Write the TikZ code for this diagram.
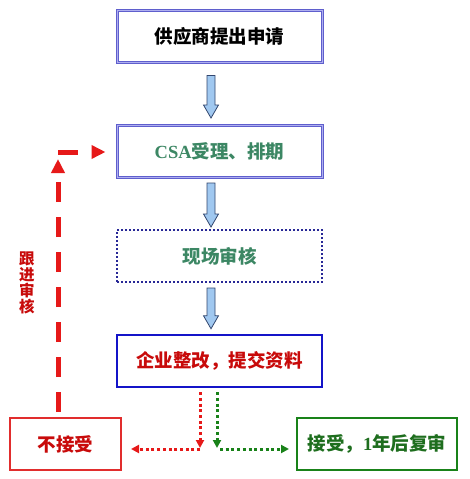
\documentclass[tikz,border=0pt]{standalone}
\usepackage{fontspec}
\setmainfont{Liberation Serif}
\newfontfamily\cjk{Noto Sans CJK SC}
\usetikzlibrary{calc,arrows.meta}
\definecolor{dblout}{RGB}{95,95,205}
\definecolor{dblin}{RGB}{175,175,240}
\definecolor{dotblue}{RGB}{40,40,150}
\definecolor{solidblue}{RGB}{20,20,200}
\definecolor{tealtxt}{RGB}{60,135,100}
\definecolor{redtxt}{RGB}{200,10,10}
\definecolor{redline}{RGB}{230,25,25}
\definecolor{redbox}{RGB}{225,45,45}
\definecolor{greenline}{RGB}{25,130,25}
\definecolor{greentxt}{RGB}{30,110,30}
\definecolor{arrowfill}{RGB}{160,200,240}
\definecolor{arrowline}{RGB}{50,70,110}
\newcommand{\blockarr}[4]{%
  \draw[barrow] let \p1=($(#1)+(-8.5,#3)$), \p2=($(#2)+(0,-#4)$) in
    (\x1-4pt,\y1) -- (\x1+4pt,\y1) -- (\x1+4pt,\y2+13pt) -- (\x1+7.5pt,\y2+13pt)
    -- (\x1,\y2) -- (\x1-7.5pt,\y2+13pt) -- (\x1-4pt,\y2+13pt) -- cycle;}
\begin{document}
\begin{tikzpicture}[x=1pt,y=-1pt,
  txt/.style={font=\fontsize{18.5}{21}\selectfont\bfseries},
  mainbox/.style={txt, minimum width=205pt, minimum height=52pt, inner sep=0pt},
  dblbox/.style={mainbox, draw=dblout, line width=1pt, double=dblin, double distance=1pt},
  dotbox/.style={mainbox, draw=dotblue, line width=2pt, dash pattern=on 2pt off 2pt},
  solidbox/.style={mainbox, draw=solidblue, line width=2.5pt},
  endbox/.style={txt, minimum height=52pt, inner sep=0pt, line width=2pt},
  barrow/.style={draw=arrowline, fill=arrowfill, line width=0.8pt, line join=miter},
  reddash/.style={draw=redline, line width=5pt, dash pattern=on 20pt off 15pt,
    -{Triangle[width=13pt,length=14pt]}},
  reddot/.style={draw=redline, line width=3pt, dash pattern=on 3pt off 2.7pt,
    -{Triangle[width=8pt,length=8pt]}},
  greendot/.style={draw=greenline, line width=3pt, dash pattern=on 3pt off 2.7pt,
    -{Triangle[width=8pt,length=8pt]}}
]
\useasboundingbox (0,0) rectangle (469,479);
\fill[white] (0,0) rectangle (469,479);

\node[dblbox] (b1) at (219.5,36) {\cjk 供应商提出申请};
\node[dblbox, text=tealtxt] (b2) at (219.5,151.5) {CSA{\cjk 受理、排期}};
\node[dotbox, text=tealtxt] (b3) at (219.5,256) {\cjk 现场审核};
\node[solidbox, text=redtxt] (b4) at (219.5,361) {\cjk 企业整改，提交资料};
\node[endbox, draw=redbox, text=redtxt, minimum width=111pt] (n) at (65.5,444) {\cjk 不接受};
\node[endbox, draw=greenline, text=greentxt, minimum width=160pt] (y) at (377,444) {{\cjk 接受，}1{\cjk 年后复审}};

\blockarr{b1.south}{b2.north}{13}{7}
\blockarr{b2.south}{b3.north}{5}{2}
\blockarr{b3.south}{b4.north}{5}{5}

\node[text=redtxt, align=center, inner sep=0pt,
  font=\cjk\fontsize{15.5}{15.75}\selectfont\bfseries] (lbl) at (27,283) {跟\\进\\审\\核};

\coordinate (fvtop) at (58,159);
\coordinate (fhl) at (58,152);
\draw[reddash, shorten <=5pt] (n.north -| fvtop) -- (fvtop);
\draw[reddash, shorten >=11pt] (fhl) -- (fhl -| b2.west);

\coordinate (rd) at (200,448);
\coordinate (rh) at (200,449);
\draw[reddot, shorten <=4pt] (b4.south -| rd) -- (rd);
\draw[reddot, shorten >=9pt] (rh) -- (rh -| n.east);

\coordinate (gd) at (217,448);
\coordinate (gh) at (220,449);
\draw[greendot, shorten <=4pt] (b4.south -| gd) -- (gd);
\draw[greendot, shorten >=7pt] (gh) -- (gh -| y.west);
\end{tikzpicture}
\end{document}
